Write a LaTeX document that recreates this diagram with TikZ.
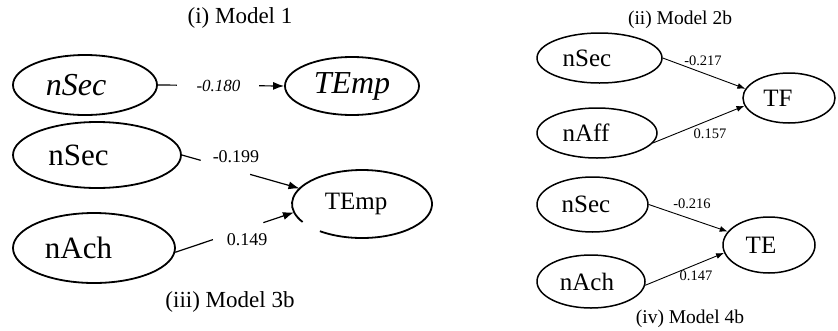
\documentclass[tikz,border=0pt]{standalone}
\usepackage{fontspec}
\setmainfont{Liberation Serif}
\usetikzlibrary{shapes.geometric,arrows.meta}
\begin{document}
\begin{tikzpicture}[x=1pt,y=-1pt,
  ellL/.style={ellipse, draw, line width=1.8pt, inner sep=0pt},
  ellR/.style={ellipse, draw, line width=1.5pt, inner sep=0pt},
  connL/.style={line width=1.2pt},
  arrL/.style={line width=1.2pt, -{Latex[length=11pt,width=8pt]}},
  arrR/.style={line width=0.9pt, -{Latex[length=8pt,width=6pt]}},
  bigit/.style={font=\fontsize{32}{35}\selectfont\itshape},
  bigup/.style={font=\fontsize{31}{35}\selectfont},
  tempup/.style={font=\fontsize{25}{28}\selectfont},
  midup/.style={font=\fontsize{25}{28}\selectfont},
  lblL/.style={font=\fontsize{18}{20}\selectfont},
  lblR/.style={font=\fontsize{14.5}{16}\selectfont},
  titleL/.style={font=\fontsize{23}{26}\selectfont},
  titleR/.style={font=\fontsize{19.5}{22}\selectfont},
]
\useasboundingbox (0,0) rectangle (838,330);

% ---------- (i) Model 1 ----------
\node[titleL] (t1) at (240,18) {(i) Model 1};
\node[ellL, bigit, minimum width=144pt, minimum height=60pt] (m1s) at (85,85) {nSec\hspace*{18pt}};
\node[ellL, bigit, minimum width=134pt, minimum height=58pt] (m1t) at (352,86) {TEmp};
\draw[arrL] (m1s.east) -- node[pos=0.48, fill=white, inner sep=0pt, minimum width=82pt, minimum height=20pt, font=\fontsize{17}{19}\selectfont\itshape] (l1) {-0.180} (m1t.west);

% ---------- (iii) Model 3b ----------
\node[ellL, bigup, minimum width=168pt, minimum height=66pt] (nsecB) at (97,155) {nSec\hspace*{37pt}};
\node[ellL, bigup, minimum width=162pt, minimum height=70pt] (nachB) at (94,248) {nAch\hspace*{31pt}};
\node[ellipse, inner sep=0pt, minimum width=140pt, minimum height=68pt, tempup] (tempB) at (362,204) {TEmp\hspace*{12pt}};
\draw[line width=1.8pt] (tempB.center) ++(233:70pt and 34pt) arc[start angle=233, end angle=572, x radius=70pt, y radius=34pt];

\path (nsecB.east) -- (tempB.166) coordinate[pos=0.16] (gB1) coordinate[pos=0.58] (gB2);
\draw[connL] (nsecB.east) -- (gB1);
\draw[arrL] (gB2) -- (tempB.166);
\node[lblL] (lB1) at (236,157) {-0.199};

\path (nachB.-3.5) -- (tempB.187) coordinate[pos=0.317] (gB3) coordinate[pos=0.742] (gB4);
\draw[connL] (nachB.-3.5) -- (gB3);
\draw[arrL] (gB4) -- (tempB.187);
\node[lblL] (lB2) at (247,240) {0.149};

\node[titleL] (t3) at (230,302) {(iii) Model 3b};

% ---------- (ii) Model 2b ----------
\node[titleR] (t2) at (680,20) {(ii) Model 2b};
\node[ellR, midup, minimum width=125pt, minimum height=50pt] (nsecC) at (599.5,58) {nSec\hspace*{25pt}};
\node[ellR, midup, minimum width=120pt, minimum height=50pt] (naffC) at (597,133) {nAff\hspace*{22pt}};
\node[ellR, midup, minimum width=92pt, minimum height=50pt] (tfC) at (789,98) {TF\hspace*{22pt}};
\draw[arrR] (nsecC.east) -- (tfC.168);
\draw[arrR] (naffC.-10) -- (tfC.190);
\node[lblR] (lC1) at (703,61) {-0.217};
\node[lblR] (lC2) at (710,134) {0.157};

% ---------- (iv) Model 4b ----------
\node[ellR, midup, minimum width=111pt, minimum height=55pt] (nsecD) at (592.5,204.5) {nSec\hspace*{13pt}};
\node[ellR, midup, minimum width=108pt, minimum height=53pt] (nachD) at (591,281.5) {nAch\hspace*{8pt}};
\node[ellR, midup, minimum width=92pt, minimum height=56pt] (teD) at (769,245) {TE\hspace*{16pt}};
\draw[arrR] (nsecD.east) -- (teD.162);
\draw[arrR] (nachD.-4) -- (teD.190);
\node[lblR] (lD1) at (692,204) {-0.216};
\node[lblR] (lD2) at (696,276) {0.147};
\node[titleR] (t4) at (690,319) {(iv) Model 4b};
\end{tikzpicture}
\end{document}
